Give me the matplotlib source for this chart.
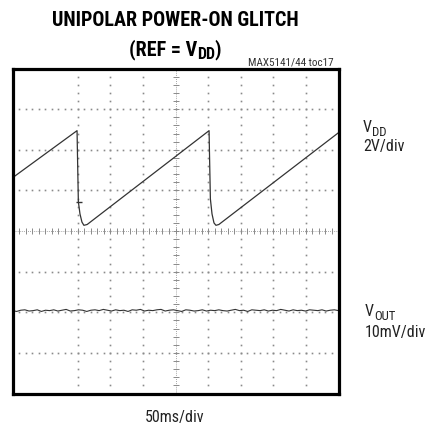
#!/usr/bin/env python3
"""
Scope capture: unipolar power-on glitch (REF = VDD), MAX5141/44 toc17.
"""

import numpy as np
import matplotlib
matplotlib.use("Agg")
import matplotlib.pyplot as plt
from matplotlib import font_manager

# ---- data (screen divisions: x 0..10, y 0..8) ----
vdd_x = [0.00, 1.98, 1.99, 2.02, 2.07, 2.13, 2.19, 2.29,
         6.03, 6.04, 6.07, 6.12, 6.18, 6.24, 6.33, 10.00]
vdd_y = [5.31, 6.47, 6.02, 4.72, 4.42, 4.22, 4.14, 4.16,
         6.47, 6.02, 4.79, 4.42, 4.20, 4.14, 4.16, 6.42]
trig_x, trig_y = 2.05, 4.72

vout_level = 2.04
vout_noise = [0.00, -0.02, 0.01, 0.02, -0.01, 0.00, 0.02, -0.02, 0.01, 0.00,
              0.02, -0.01, 0.01, 0.03, -0.01, 0.00, 0.02, 0.01, -0.02, 0.01,
              0.02, 0.00, 0.03, 0.01, -0.01, 0.02, 0.00, 0.01, -0.02, 0.02,
              0.01, 0.03, -0.01, 0.01, 0.00, 0.02, 0.03, -0.01, 0.01, 0.02,
              0.00, -0.02, 0.02, 0.01, -0.01, 0.00, 0.02, -0.01, 0.01, 0.00,
              0.02, 0.00, -0.01, 0.01, 0.03, 0.00, 0.01, -0.02, 0.02, 0.01,
              0.00, 0.02, -0.01, 0.01, 0.00, 0.03, 0.01, -0.01, 0.02, 0.00,
              0.01, -0.01, 0.02, 0.01, 0.00, 0.02, -0.01, 0.01, 0.02, 0.00]

title_line1 = "UNIPOLAR POWER-ON GLITCH"
title_line2 = [("(REF = V", False), ("DD", True), (")", False)]
part_label = "MAX5141/44 toc17"
ch1_name = [("V", False), ("DD", True)]
ch1_scale = "2V/div"
ch2_name = [("V", False), ("OUT", True)]
ch2_scale = "10mV/div"
time_label = "50ms/div"

# ---- font: prefer a narrow sans ----
available = {f.name for f in font_manager.fontManager.ttflist}
narrow = "DejaVu Sans"
for name in ["Liberation Sans Narrow", "Roboto Condensed", "DejaVu Sans Condensed",
             "Open Sans Condensed", "Liberation Sans"]:
    if name in available:
        narrow = name
        break
plt.rcParams['font.family'] = [narrow, 'DejaVu Sans']

W, H = 429, 427
fig = plt.figure(figsize=(W / 100, H / 100), dpi=100)
renderer = fig.canvas.get_renderer()

# plot box in pixels (interior)
left, right, top, bottom = 12.5, 338.5, 69.5, 394.5
ax = fig.add_axes([left / W, 1 - bottom / H, (right - left) / W, (bottom - top) / H])
ax.set_xlim(0, 10)
ax.set_ylim(0, 8)
ax.set_xticks([])
ax.set_yticks([])
for s in ax.spines.values():
    s.set_linewidth(2.3)
    s.set_color('black')

grid_col = '#8a8a8a'
# vertical graticule (first division line is not drawn on the original)
ys = np.arange(0, 8.001, 0.2)
for gx in [2, 3, 4, 6, 7, 8, 9]:
    ax.plot([gx] * len(ys), ys, ls='none', marker='s', ms=1.2, mew=0, color=grid_col)
xs = np.arange(0, 10.001, 0.2)
for gy in [1, 2, 3, 5, 6, 7]:
    ax.plot(xs, [gy] * len(xs), ls='none', marker='s', ms=1.2, mew=0, color=grid_col)

# centre crosshair with minor ticks
ax.plot([5, 5], [0, 8], ls=(0, (1, 1.5)), lw=0.6, color=grid_col)
ax.plot([0, 10], [4, 4], ls=(0, (1, 1.5)), lw=0.6, color=grid_col)
ax.plot([5] * len(ys), ys, ls='none', marker='_', ms=4, mew=0.7, color=grid_col)
ax.plot(xs, [4] * len(xs), ls='none', marker='|', ms=4, mew=0.7, color=grid_col)

# traces
trace_col = '#333333'
ax.plot(vdd_x, vdd_y, color=trace_col, lw=0.9)
ax.plot([trig_x], [trig_y], marker='_', ms=5, mew=1.0, color=trace_col)

vout_x = np.linspace(0, 10, len(vout_noise))
ax.plot(vout_x, vout_level + np.array(vout_noise), color=trace_col, lw=0.8)


def ftext(x, y, s, **kw):
    return fig.text(x / W, 1 - y / H, s, **kw)


def sub_text(x, y, parts, size, align='left', **kw):
    """Draw text with subscript pieces; x,y is baseline start (pixels from top-left)."""
    sub_size = size * 0.8
    widths = []
    for txt, is_sub in parts:
        t = ftext(0, 0, txt, fontsize=sub_size if is_sub else size, **kw)
        widths.append(t.get_window_extent(renderer).width)
        t.remove()
    total = sum(widths)
    cx = x - total / 2 if align == 'center' else x
    for (txt, is_sub), w in zip(parts, widths):
        dy = size * 100 / 72 * 0.22 if is_sub else 0
        ftext(cx, y + dy, txt, fontsize=sub_size if is_sub else size,
              ha='left', va='baseline', **kw)
        cx += w


ftext(175, 20, title_line1, ha='center', va='center', fontsize=14.5, fontweight='bold')
sub_text(175, 55, title_line2, 14.5, align='center', fontweight='bold')
ftext(334, 63, part_label, ha='right', va='center', fontsize=8, color='#333333')

lab_col = '#222222'
sub_text(363, 132, ch1_name, 11.5, color=lab_col)
ftext(363, 147, ch1_scale, ha='left', va='center', fontsize=11.5, color=lab_col)
sub_text(365, 316, ch2_name, 11.5, color=lab_col)
ftext(365, 333, ch2_scale, ha='left', va='center', fontsize=11.5, color=lab_col)
ftext(175, 418, time_label, ha='center', va='center', fontsize=11.5, color=lab_col)

fig.savefig('out.png', dpi=100)
